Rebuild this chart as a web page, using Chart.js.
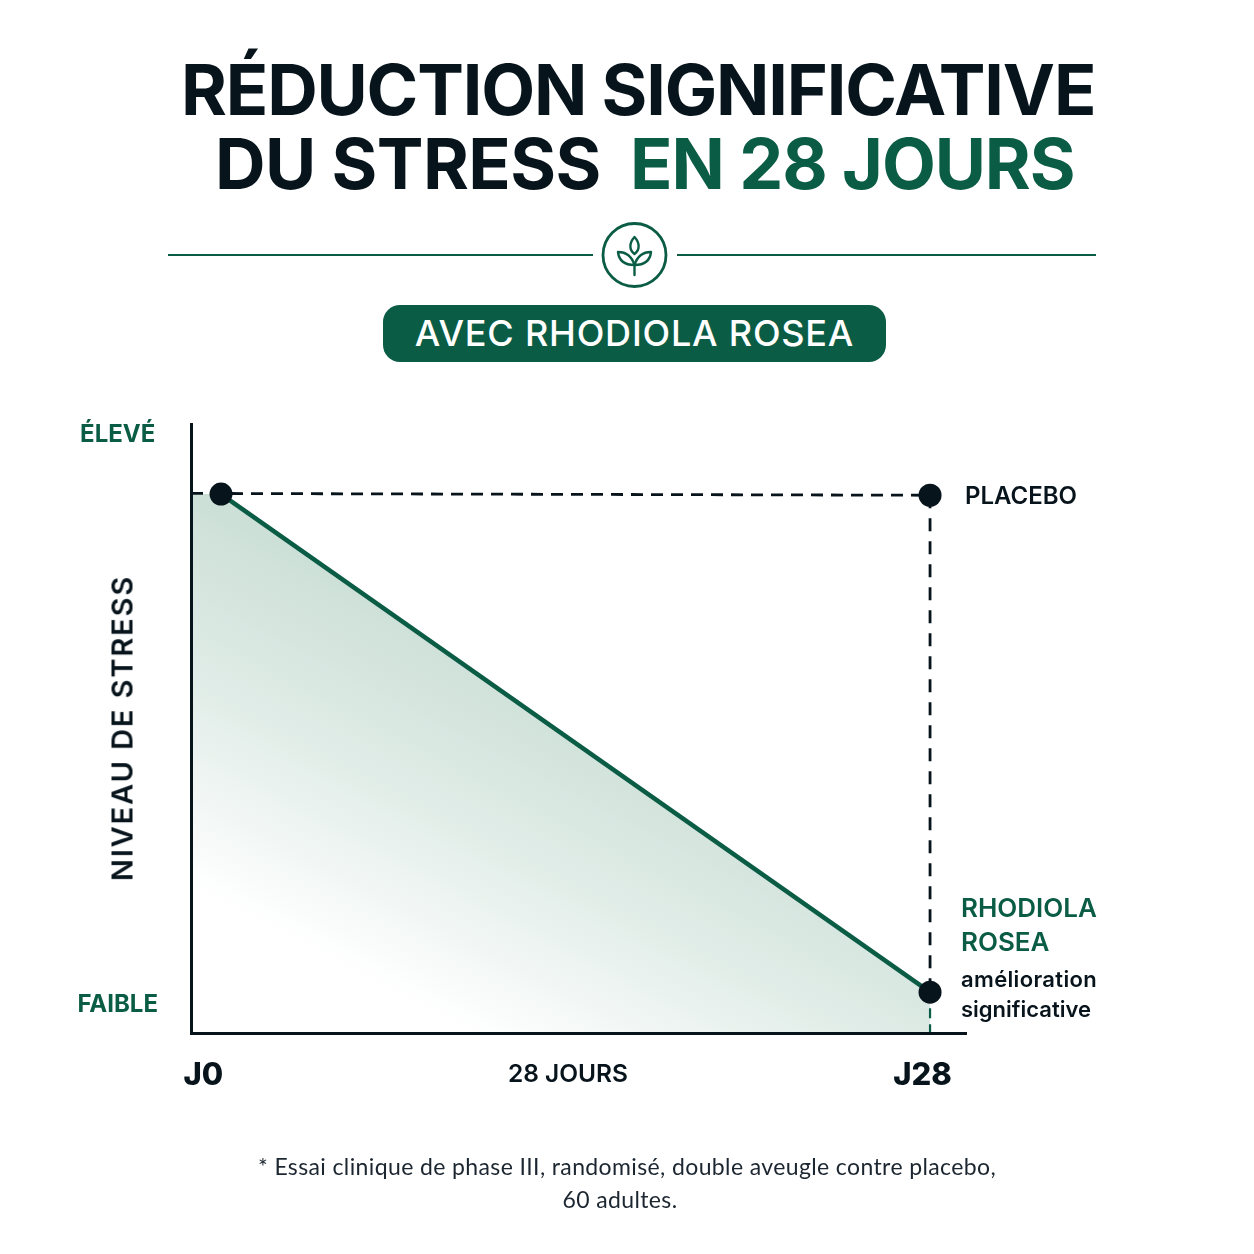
<!DOCTYPE html>
<html lang="fr">
<head>
<meta charset="utf-8">
<title>Réduction significative du stress en 28 jours</title>
<script src="https://cdn.jsdelivr.net/npm/chart.js@4"></script>
<style>
  html, body { margin: 0; background: #fff; }
  #page { position: relative; width: 1254px; height: 1254px; overflow: hidden; font-family: Lato, sans-serif; color: #08141c; }
  #myChart { position: absolute; left: 0; top: 0; }
  .txt { position: absolute; white-space: nowrap; transform: translateY(-50%); line-height: 1; }
  .head { font-family: Inter, sans-serif; font-weight: 700; font-size: 70px; letter-spacing: -0.6px; }
  .green { color: #0b5c45; }
  .rule { position: absolute; top: 254px; height: 2px; background: #0b5c45; }
  #pill { position: absolute; left: 383px; top: 305px; width: 503px; height: 57px; border-radius: 17px; background: #0b5c45; color: #fff;
          font-family: Inter, sans-serif; font-weight: 500; font-size: 36px; letter-spacing: 0.8px; line-height: 57px; text-align: center; }
  #icon { position: absolute; left: 601px; top: 221px; }
  #yTitle { position: absolute; left: 122px; top: 728px; transform: translate(-50%, -50%) rotate(-90deg); white-space: nowrap;
            font-family: Inter, sans-serif; font-weight: 600; font-size: 29px; letter-spacing: 1.9px; line-height: 1; }
  .note { position: absolute; left: 0; width: 1254px; text-align: center; font-size: 23px; letter-spacing: 0.38px; line-height: 1; color: #1c2630; }
</style>
</head>
<body>
<div id="page">
  <canvas id="myChart" width="1254" height="1254"></canvas>

  <div class="txt head" style="left:181px; top:90px; letter-spacing:-1.17px;">RÉDUCTION SIGNIFICATIVE</div>
  <div class="txt head" style="left:215px; top:164px;">DU STRESS</div>
  <div class="txt head green" style="left:630px; top:164px; letter-spacing:-1.1px;">EN 28 JOURS</div>

  <div class="rule" style="left:168px; width:425px;"></div>
  <div class="rule" style="left:677px; width:419px;"></div>
  <svg id="icon" width="67" height="67" viewBox="0 0 67 67" fill="none" stroke="#0b5c45" stroke-width="2.4" stroke-linejoin="round" stroke-linecap="round">
    <circle cx="33.5" cy="34" r="31.5" stroke-width="2.8"/>
    <path d="M33.5 16 C28 22 28 29 33.5 33 C39 29 39 22 33.5 16 Z"/>
    <path d="M17 31 C18 40 24 44 33.5 44 C31 36 26 31 17 31 Z"/>
    <path d="M50 31 C49 40 43 44 33.5 44 C36 36 41 31 50 31 Z"/>
    <path d="M33.5 44 V54"/>
  </svg>
  <div id="pill">AVEC RHODIOLA ROSEA</div>

  <div id="yTitle">NIVEAU DE STRESS</div>

  <div class="txt" style="left:965px; top:496px; font-family:Inter,sans-serif; font-weight:600; font-size:24px;">PLACEBO</div>
  <div class="txt green" style="left:961px; top:908px; font-family:Inter,sans-serif; font-weight:600; font-size:26px;">RHODIOLA</div>
  <div class="txt green" style="left:961px; top:942px; font-family:Inter,sans-serif; font-weight:600; font-size:26px;">ROSEA</div>
  <div class="txt" style="left:961px; top:979px; font-family:Inter,sans-serif; font-weight:600; font-size:22px; letter-spacing:0.35px;">amélioration</div>
  <div class="txt" style="left:961px; top:1009px; font-family:Inter,sans-serif; font-weight:600; font-size:22px;">significative</div>

  <div class="note" style="top:1155px;">* Essai clinique de phase III, randomisé, double aveugle contre placebo,</div>
  <div class="note" style="top:1188px; left:-7px;">60 adultes.</div>
</div>

<script>
// values (x in days, y on a 0-100 stress scale)
const days = [0, 28];
const rhodiola = [88.5, 6.7];
const placebo = [88.6, 88.3];
const axisLeftDay = -1.185;
const axisRightDay = 29.42;

const xTickValues = [-0.7, 13.7, 27.7];
const xTickLabels = ["J0", "28 JOURS", "J28"];
const yTickValues = [98.2, 4.6];
const yTickLabels = ["ÉLEVÉ", "FAIBLE"];

const GREEN = "#0b5c45";
const INK = "#08141c";

function areaGradient(context) {
  const { ctx, chartArea } = context.chart;
  if (!chartArea) return "rgba(13,92,69,0.2)";
  // fades towards the lower left corner
  const grad = ctx.createLinearGradient(191, 500, 32, 804);
  grad.addColorStop(0, "#cde0d8");
  grad.addColorStop(0.45, "#e0ece7");
  grad.addColorStop(1, "#ffffff");
  return grad;
}

const ctx = document.getElementById("myChart").getContext("2d");
const chart = new Chart(ctx, {
  type: "scatter",
  data: {
    datasets: [
      {
        // dots on top
        label: "Points",
        data: [
          { x: days[0], y: rhodiola[0] },
          { x: days[1], y: placebo[1] },
          { x: days[1], y: rhodiola[1] },
        ],
        showLine: false,
        pointRadius: 11.5,
        pointHoverRadius: 11.5,
        backgroundColor: INK,
        borderWidth: 0,
        order: 0,
      },
      {
        label: "Rhodiola rosea",
        data: days.map((d, i) => ({ x: d, y: rhodiola[i] })),
        showLine: true,
        borderColor: GREEN,
        borderWidth: 4.5,
        pointRadius: 0,
        order: 1,
      },
      {
        label: "Placebo",
        data: [
          { x: axisLeftDay, y: placebo[0] },
          { x: days[1], y: placebo[1] },
        ],
        showLine: true,
        borderColor: INK,
        borderWidth: 2.8,
        borderDash: [12, 8],
        pointRadius: 0,
        order: 2,
      },
      {
        label: "Écart",
        data: [
          { x: days[1], y: placebo[1] },
          { x: days[1], y: rhodiola[1] },
        ],
        showLine: true,
        borderColor: INK,
        borderWidth: 2.8,
        borderDash: [13, 10],
        pointRadius: 0,
        order: 2,
      },
      {
        label: "Écart bas",
        data: [
          { x: days[1], y: rhodiola[1] },
          { x: days[1], y: 0 },
        ],
        showLine: true,
        borderColor: GREEN,
        borderWidth: 2.2,
        borderDash: [10, 6],
        pointRadius: 0,
        order: 3,
      },
      {
        label: "Aire",
        data: [
          { x: axisLeftDay, y: rhodiola[0] },
          { x: days[0], y: rhodiola[0] },
          { x: days[1], y: rhodiola[1] },
        ],
        showLine: true,
        borderWidth: 0,
        pointRadius: 0,
        fill: "origin",
        backgroundColor: areaGradient,
        order: 4,
      },
    ],
  },
  options: {
    responsive: false,
    animation: false,
    devicePixelRatio: 1,
    layout: { padding: { left: 71, top: 424, right: 288, bottom: 161 } },
    plugins: { legend: { display: false }, tooltip: { enabled: false } },
    scales: {
      x: {
        type: "linear",
        min: axisLeftDay,
        max: axisRightDay,
        grid: { display: false, drawTicks: false },
        border: { color: INK, width: 3, z: 1 },
        afterFit: (scale) => { scale.height = 60; },
        afterBuildTicks: (scale) => { scale.ticks = xTickValues.map((value) => ({ value })); },
        ticks: {
          autoSkip: false,
          maxRotation: 0,
          padding: 24,
          color: INK,
          font: (c) => (c.index === 1
            ? { family: "Inter", weight: "600", size: 24.5, lineHeight: 1.45 }
            : { family: "Inter", weight: "800", size: 31 }),
          callback: (value) => xTickLabels[xTickValues.indexOf(value)],
        },
      },
      y: {
        type: "linear",
        min: 0,
        max: 100,
        grid: { display: false, drawTicks: false },
        border: { color: INK, width: 3, z: 1 },
        afterFit: (scale) => { scale.width = 120; },
        afterBuildTicks: (scale) => { scale.ticks = yTickValues.map((value) => ({ value })); },
        ticks: {
          autoSkip: false,
          crossAlign: "center",
          padding: 33,
          color: GREEN,
          font: { family: "Inter", weight: "700", size: 24 },
          callback: (value) => yTickLabels[yTickValues.indexOf(value)],
        },
      },
    },
  },
});
</script>
</body>
</html>
